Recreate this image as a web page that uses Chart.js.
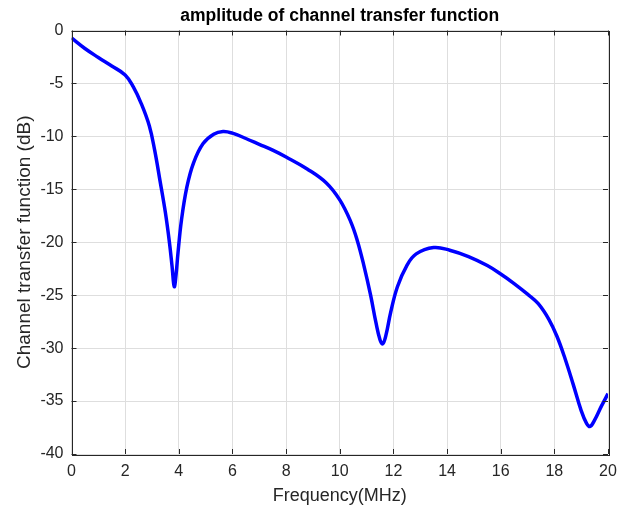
<!DOCTYPE html>
<html>
<head>
<meta charset="utf-8">
<script src="https://cdn.jsdelivr.net/npm/chart.js@4.4.1/dist/chart.umd.min.js"></script>
<style>
  html, body { margin: 0; padding: 0; background: #fff; }
  #wrap { width: 627px; height: 510px; }
</style>
</head>
<body>
<div id="wrap"><canvas id="tfChart" width="627" height="510"></canvas></div>
<script>
// data
const titleText = 'amplitude of channel transfer function';
const xTitle = 'Frequency(MHz)';
const yTitle = 'Channel transfer function (dB)';

const freq = [0, 0.5, 1, 1.5, 2, 2.3, 2.6, 2.9, 3.1, 3.3, 3.5, 3.65, 3.75, 3.83, 3.9, 3.97,
  4.1, 4.3, 4.55, 4.9, 5.3, 5.65, 6.0, 6.5, 7.0, 7.5, 8.0, 8.8, 9.5, 10.0, 10.4, 10.65, 10.9,
  11.15, 11.35, 11.5, 11.6, 11.72, 11.9, 12.15, 12.5, 12.85, 13.5, 14.1, 14.8, 15.5, 16.0,
  16.5, 17.0, 17.4, 17.8, 18.1, 18.4, 18.7, 19.0, 19.2, 19.33, 19.5, 19.75, 20];
const amp = [-0.7, -1.7, -2.55, -3.35, -4.2, -5.3, -6.9, -9.0, -11.3, -14.2, -17.2, -20.0, -22.3, -24.2, -23.0, -21.0,
  -17.9, -14.8, -12.5, -10.7, -9.8, -9.55, -9.7, -10.2, -10.75, -11.3, -11.95, -13.1, -14.4, -16.0, -18.0, -19.8, -22.2,
  -25.0, -27.6, -29.2, -29.6, -28.8, -26.6, -24.2, -22.2, -21.1, -20.5, -20.75, -21.35, -22.2, -23.0,
  -23.9, -24.9, -25.8, -27.3, -28.9, -31.0, -33.4, -35.9, -37.1, -37.4, -36.8, -35.5, -34.3];

const xTicks = [0, 2, 4, 6, 8, 10, 12, 14, 16, 18, 20];
const yTicks = [0, -5, -10, -15, -20, -25, -30, -35, -40];

const fontFam = "'Liberation Sans', Arial, sans-serif";
const axisColor = '#262626';

// box around the plot, inward ticks and the title (matlab style)
const matlabFrame = {
  id: 'matlabFrame',
  afterDraw(chart) {
    const ctx = chart.ctx;
    const a = chart.chartArea;
    const xs = chart.scales.x, ys = chart.scales.y;
    const tl = 5;
    ctx.save();
    ctx.strokeStyle = axisColor;
    ctx.lineWidth = 1;
    ctx.strokeRect(Math.round(a.left) + 0.5, Math.round(a.top) + 0.5,
      Math.round(a.right - a.left), Math.round(a.bottom - a.top));
    ctx.beginPath();
    xTicks.forEach(v => {
      const px = Math.round(xs.getPixelForValue(v)) + 0.5;
      ctx.moveTo(px, a.bottom); ctx.lineTo(px, a.bottom - tl);
      ctx.moveTo(px, a.top); ctx.lineTo(px, a.top + tl);
    });
    yTicks.forEach(v => {
      const py = Math.round(ys.getPixelForValue(v)) + 0.5;
      ctx.moveTo(a.left, py); ctx.lineTo(a.left + tl, py);
      ctx.moveTo(a.right, py); ctx.lineTo(a.right - tl, py);
    });
    ctx.stroke();

    ctx.fillStyle = '#000';
    ctx.font = 'bold 17.5px ' + fontFam;
    ctx.textAlign = 'center';
    ctx.textBaseline = 'middle';
    ctx.fillText(titleText, (a.left + a.right) / 2, 16);
    ctx.restore();
  }
};

const ctx = document.getElementById('tfChart').getContext('2d');
const tfChart = new Chart(ctx, {
  type: 'line',
  data: {
    datasets: [{
      data: freq.map((f, i) => ({ x: f, y: amp[i] })),
      borderColor: '#0000ff',
      borderWidth: 3.5,
      pointRadius: 0,
      fill: false,
      tension: 0.4
    }]
  },
  options: {
    responsive: false,
    animation: false,
    devicePixelRatio: 1,
    layout: { padding: { top: 30.5, right: 19, left: 0, bottom: 0 } },
    plugins: {
      legend: { display: false },
      title: { display: false },
      tooltip: { enabled: false }
    },
    scales: {
      x: {
        type: 'linear',
        min: 0,
        max: 20,
        afterFit(scale) { scale.height = 56; },
        afterBuildTicks(scale) { scale.ticks = xTicks.map(v => ({ value: v })); },
        grid: { color: '#dedede', drawTicks: false },
        border: { display: false },
        ticks: { color: axisColor, font: { family: fontFam, size: 16 }, padding: 8, maxRotation: 0 },
        title: { display: true, text: xTitle, color: axisColor,
          font: { family: fontFam, size: 18 }, padding: { top: 0, bottom: 3 } }
      },
      y: {
        min: -40,
        max: 0,
        afterFit(scale) { scale.width = 71.5; },
        afterBuildTicks(scale) { scale.ticks = yTicks.map(v => ({ value: v })); },
        grid: { color: '#dedede', drawTicks: false },
        border: { display: false },
        ticks: { color: axisColor, font: { family: fontFam, size: 16 }, padding: 8 },
        title: { display: true, text: yTitle, color: axisColor,
          font: { family: fontFam, size: 19 }, padding: { top: 13, bottom: 0 } }
      }
    }
  },
  plugins: [matlabFrame]
});
</script>
</body>
</html>
